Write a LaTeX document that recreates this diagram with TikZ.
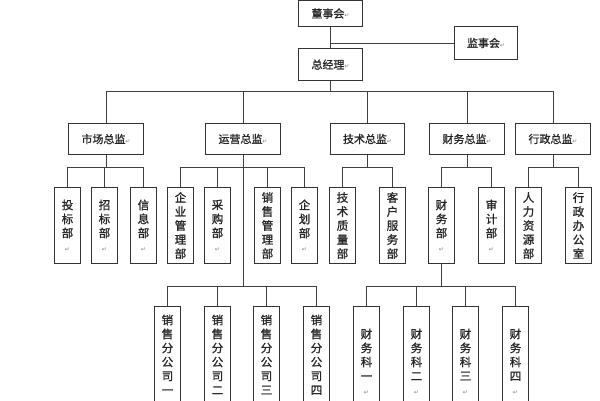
\documentclass[tikz,border=0pt]{standalone}
\usepackage{fontspec}
\newfontfamily\cjk[FakeBold=1.2]{Noto Sans CJK SC}
\newfontfamily\dejavu{DejaVu Sans}
\newcommand\ret{{\dejavu\fontsize{6}{6}\selectfont\textcolor{gray}{↵}}}
\begin{document}
\begin{tikzpicture}[x=1pt,y=-1pt,
  box/.style={draw=black!80,line width=1pt,inner sep=0pt,anchor=north west,font=\cjk\fontsize{11}{13}\selectfont,text=black!85},
  vbox/.style={box,align=center,minimum width=26pt,font=\cjk\fontsize{11.5}{14}\selectfont},
  ln/.style={draw=black!75,line width=1pt}]
\useasboundingbox (0,0) rectangle (600,400);
\clip (0,0) rectangle (600,400);
\node[box,minimum width=64pt,minimum height=26pt] (dsh) at (298,0) {董事会\ret};
\node[box,minimum width=63pt,minimum height=33pt] (jsh) at (454,26) {监事会\ret};
\node[box,minimum width=64pt,minimum height=32pt] (zjl) at (298,48) {总经理\ret};
% second level
\node[box,minimum width=75pt,minimum height=31pt] (sc) at (68,123) {市场总监\ret};
\node[box,minimum width=75pt,minimum height=31pt] (yy) at (205,123) {运营总监\ret};
\node[box,minimum width=74pt,minimum height=31pt] (js) at (330,123) {技术总监\ret};
\node[box,minimum width=75pt,minimum height=31pt] (cw) at (429,123) {财务总监\ret};
\node[box,minimum width=75pt,minimum height=31pt] (xz) at (515,123) {行政总监\ret};
% third level
\foreach \n/\x/\t in {a1/54/投\\标\\部\\\ret, a2/91/招\\标\\部\\\ret, a3/130/信\\息\\部\\\ret,
  b1/167/企\\业\\管\\理\\部, b2/204/采\\购\\部\\\ret, b3/254/销\\售\\管\\理\\部, b4/291/企\\划\\部\\\ret,
  c1/329/技\\术\\质\\量\\部, c2/379/客\\户\\服\\务\\部,
  d1/428/财\\务\\部\\\ret, d2/478/审\\计\\部\\\ret,
  e1/515/人\\力\\资\\源\\部, e2/565/行\\政\\办\\公\\室}
  \node[vbox,minimum height=76pt] (\n) at (\x,187) {\t};
% bottom level
\foreach \n/\x/\t in {f1/154/销\\售\\分\\公\\司\\一\\\ret, f2/204/销\\售\\分\\公\\司\\二\\\ret, f3/253/销\\售\\分\\公\\司\\三\\\ret, f4/303/销\\售\\分\\公\\司\\四\\\ret,
  g1/353/财\\务\\科\\一\\\ret, g2/403/财\\务\\科\\二\\\ret, g3/452/财\\务\\科\\三\\\ret, g4/502/财\\务\\科\\四\\\ret}
  \node[vbox,minimum height=110pt,anchor=north west,text depth=0pt] (\n) at (\x,306) {\t};
% connectors
\draw[ln] (dsh.south) -- (zjl.north);
\draw[ln] (dsh.south |- jsh.west) -- (jsh.west);
\foreach \c in {sc,yy,js,cw,xz} \draw[ln] (zjl.south) -- ++(0,10) -| (\c.north);
\foreach \c in {a1,a2,a3} \draw[ln] (sc.south) -- ++(0,12) -| (\c.north);
\foreach \c in {b1,b2,b3,b4} \draw[ln] (yy.south) -- ++(0,12) -| (\c.north);
\foreach \c in {c1,c2} \draw[ln] (js.south) -- ++(0,12) -| (\c.north);
\foreach \c in {d1,d2} \draw[ln] (cw.south) -- ++(0,12) -| (\c.north);
\foreach \c in {e1,e2} \draw[ln] (xz.south) -- ++(0,12) -| (\c.north);
\foreach \c in {f1,f2,f3,f4} \draw[ln] (yy.south) -- ++(0,131) -| (\c.north);
\foreach \c in {g1,g2,g3,g4} \draw[ln] (d1.south) -- ++(0,22) -| (\c.north);
\end{tikzpicture}
\end{document}
